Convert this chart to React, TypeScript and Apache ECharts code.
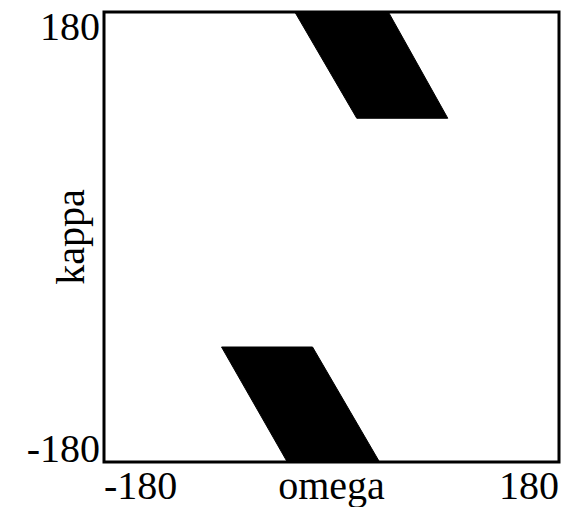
import React, { useEffect, useRef } from "react";
import * as echarts from "echarts";

const axisMin = -180;
const axisMax = 180;
const axisStep = 180;

// polygon vertices (omega, kappa)
const upperOmega = [-29, 45, 92, 20];
const upperKappa = [180, 180, 95, 95];
const lowerOmega = [-87, -15, 38, -35];
const lowerKappa = [-88, -88, -180, -180];

const regions = [
  { omega: upperOmega, kappa: upperKappa },
  { omega: lowerOmega, kappa: lowerKappa },
];

const xName = "omega";
const yName = "kappa";

const FONT = "Liberation Serif";

export default function App() {
  const ref = useRef<HTMLDivElement>(null);
  useEffect(() => {
    if (!ref.current) return;
    const chart = echarts.init(ref.current, null, { renderer: "svg" });
    const fmt = (v: number) => (v === 0 ? "" : String(v));
    chart.setOption({
      animation: false,
      backgroundColor: "#fff",
      grid: {
        left: 104,
        top: 12,
        right: 10,
        bottom: 45,
        containLabel: false,
        outerBoundsMode: "none",
        show: true,
        borderColor: "#000",
        borderWidth: 3,
        backgroundColor: "transparent",
      },
      xAxis: {
        type: "value",
        min: axisMin,
        max: axisMax,
        interval: axisStep,
        name: xName,
        nameLocation: "middle",
        nameGap: 3,
        nameMoveOverlap: false,
        nameTextStyle: { fontFamily: FONT, fontSize: 40, lineHeight: 40, color: "#000", verticalAlign: "top" },
        axisLine: { show: false },
        axisTick: { show: false },
        splitLine: { show: false },
        axisLabel: {
          formatter: fmt,
          fontFamily: FONT,
          fontSize: 40,
          lineHeight: 40,
          color: "#000",
          margin: 3,
          alignMinLabel: "left",
          alignMaxLabel: "right",
        },
      },
      yAxis: {
        type: "value",
        min: axisMin,
        max: axisMax,
        interval: axisStep,
        name: yName,
        nameLocation: "middle",
        nameGap: 14,
        nameMoveOverlap: false,
        nameRotate: 90,
        nameTextStyle: { fontFamily: FONT, fontSize: 40, color: "#000" },
        axisLine: { show: false },
        axisTick: { show: false },
        splitLine: { show: false },
        axisLabel: {
          formatter: fmt,
          fontFamily: FONT,
          fontSize: 40,
          lineHeight: 28,
          color: "#000",
          margin: 4,
          verticalAlignMinLabel: "bottom",
          verticalAlignMaxLabel: "top",
        },
      },
      series: [
        {
          type: "custom",
          clip: true,
          data: regions.map((_, i) => [i]),
          renderItem: (params: any, api: any) => {
            const r = regions[api.value(0)];
            const pts = r.omega.map((o, k) => api.coord([o, r.kappa[k]]));
            return {
              type: "polygon",
              shape: { points: pts },
              style: { fill: "#000", stroke: "#000", lineWidth: 1 },
            };
          },
        },
      ],
    });
    return () => chart.dispose();
  }, []);
  return <div ref={ref} style={{ width: 569, height: 507, position: "absolute", left: 0, top: 0 }} />;
}
